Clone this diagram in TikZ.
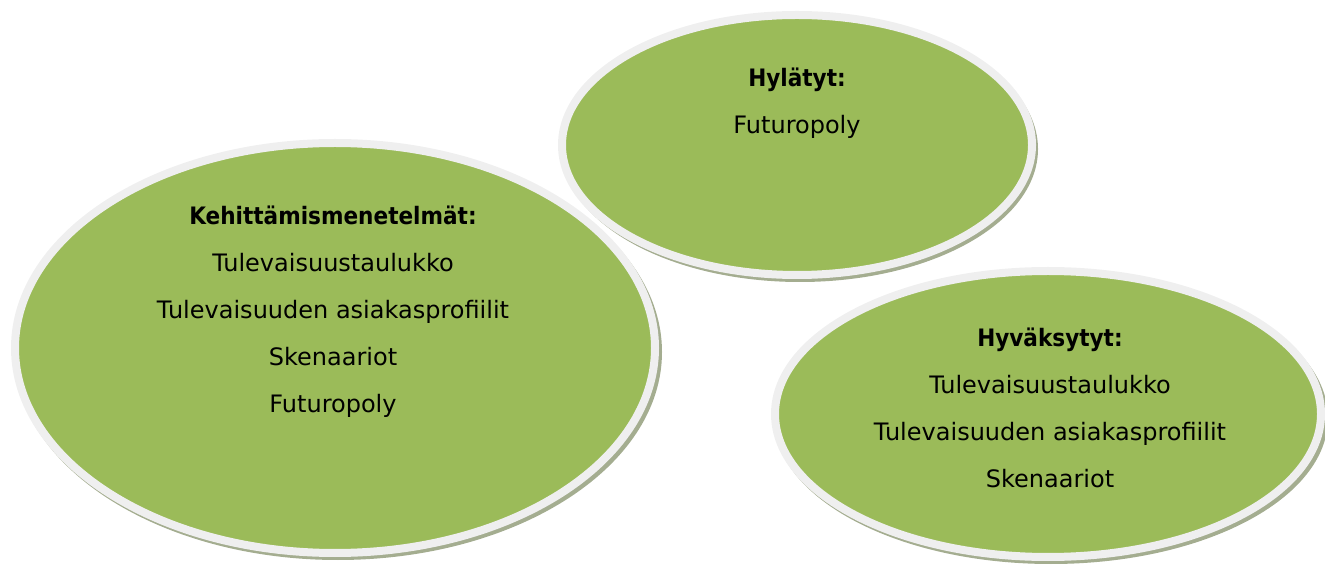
\documentclass[tikz,border=0pt]{standalone}
\usepackage{fontspec}
\setmainfont{DejaVu Sans}[BoldFont={DejaVu Sans Condensed Bold}]
\usetikzlibrary{shapes.geometric}
\definecolor{leaf}{HTML}{9BBB59}
\definecolor{ring}{HTML}{EFEFEF}
\definecolor{shade}{HTML}{A4AD90}
\tikzset{
  x=1pt,y=1pt,
  blob/.style={ellipse, fill=leaf, draw=ring, line width=8pt, inner sep=0pt},
  blobshadow/.style={ellipse, fill=shade, inner sep=0pt},
  label text/.style={align=center, font={\fontsize{24}{47}\selectfont}, text=black, inner sep=0pt}
}
\begin{document}
\begin{tikzpicture}
\useasboundingbox (0,0) rectangle (1325,565);
% shadows
\node[blobshadow, minimum width=648, minimum height=416] (s1) at (338,213) {};
\node[blobshadow, minimum width=476, minimum height=266] (s2) at (800,416) {};
\node[blobshadow, minimum width=554, minimum height=292] (s3) at (1051,147) {};
% ellipses
\node[blob, minimum width=640, minimum height=410] (e1) at (335,217) {};
\node[blob, minimum width=470, minimum height=260] (e2) at (797,420) {};
\node[blob, minimum width=546, minimum height=286] (e3) at (1048,151) {};
% texts
\node[label text] (t1) at (333,253.5) {\textbf{Kehittämismenetelmät:}\\Tulevaisuustaulukko\\Tulevaisuuden asiakasprofiilit\\Skenaariot\\Futuropoly};
\node[label text] (t2) at (797,461.5) {\textbf{Hylätyt:}\\Futuropoly};
\node[label text] (t3) at (1050,157.5) {\textbf{Hyväksytyt:}\\Tulevaisuustaulukko\\Tulevaisuuden asiakasprofiilit\\Skenaariot};
\end{tikzpicture}
\end{document}
